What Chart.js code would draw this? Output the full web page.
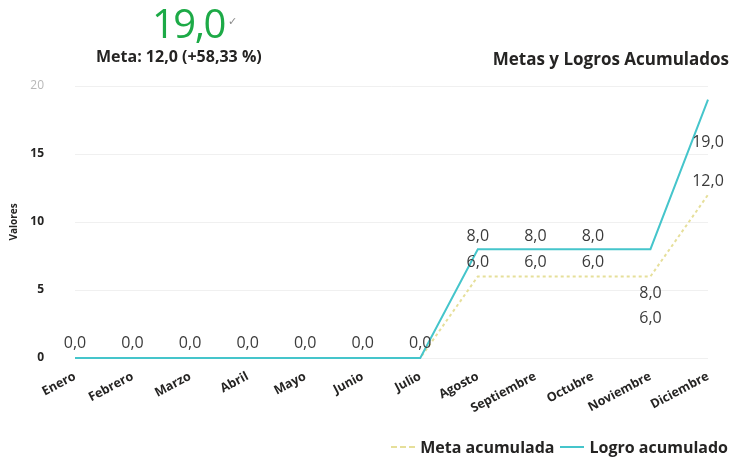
<!DOCTYPE html>
<html lang="es">
<head>
<meta charset="utf-8">
<title>Metas y Logros Acumulados</title>
<script src="https://cdn.jsdelivr.net/npm/chart.js@4.4.1/dist/chart.umd.min.js"></script>
<style>
  body { margin: 0; background: #fff; font-family: "Open Sans", "Noto Sans", sans-serif; color: #252423; }
  #tablero { position: relative; width: 731px; height: 460px; overflow: hidden; }
  #tablero canvas { position: absolute; left: 0; top: 0; }
  .kpi { position: absolute; left: 152px; top: -5px; font-size: 40px; color: #1daa47; letter-spacing: -1.5px; }
  .kpi .check { font-size: 11px; color: #8a8a8a; vertical-align: 13px; margin-left: 3px; }
  .meta { position: absolute; left: 96px; top: 45px; font-size: 16px; font-weight: 700; }
  .titulo { position: absolute; right: 2px; top: 47px; font-size: 17px; font-weight: 700; }
  .leyenda { position: absolute; right: 3px; top: 436px; display: flex; align-items: center; font-size: 16px; font-weight: 700; }
  .leyenda .muestra { width: 24px; height: 0; margin: 0 5px 0 6px; }
</style>
</head>
<body>
<div id="tablero">
  <canvas id="grafico"></canvas>
  <div class="kpi">19,0<span class="check">✓</span></div>
  <div class="meta">Meta: 12,0 (+58,33 %)</div>
  <div class="titulo">Metas y Logros Acumulados</div>
  <div class="leyenda">
    <span class="muestra" style="border-top: 2px dashed #e6df9a;"></span>Meta acumulada
    <span class="muestra" style="border-top: 2px solid #45c5cb;"></span>Logro acumulado
  </div>
</div>
<script>
// Meses y valores acumulados
const meses = ["Enero", "Febrero", "Marzo", "Abril", "Mayo", "Junio", "Julio",
  "Agosto", "Septiembre", "Octubre", "Noviembre", "Diciembre"];
const metaAcumulada = [0, 0, 0, 0, 0, 0, 0, 6, 6, 6, 6, 12];
const logroAcumulado = [0, 0, 0, 0, 0, 0, 0, 8, 8, 8, 8, 19];
const ticksValores = [0, 5, 10, 15, 20];

// Desplazamiento vertical de cada etiqueta respecto a su punto (null = sin etiqueta)
const despMeta = [null, null, null, null, null, null, null, -14, -14, -14, 42, -13];
const despLogro = [-15, -15, -15, -15, -15, -15, -15, -13, -13, -13, 44, 43];

const formato = v => v.toFixed(1).replace(".", ",");

// Etiquetas de datos dibujadas sobre los puntos de cada serie
const etiquetasDatos = {
  id: "etiquetasDatos",
  afterDatasetsDraw(chart) {
    const c = chart.ctx;
    c.save();
    c.font = '16px "Open Sans", sans-serif';
    c.fillStyle = "#3b3b3b";
    c.textAlign = "center";
    c.textBaseline = "middle";
    chart.data.datasets.forEach((ds, i) => {
      const meta = chart.getDatasetMeta(i);
      meta.data.forEach((pt, j) => {
        const d = ds.desplazamientos[j];
        if (d === null) return;
        c.fillText(formato(ds.data[j]), pt.x, pt.y + d);
      });
    });
    c.restore();
  }
};

new Chart(document.getElementById("grafico"), {
  type: "line",
  data: {
    labels: meses,
    datasets: [
      {
        label: "Meta acumulada",
        data: metaAcumulada,
        desplazamientos: despMeta,
        borderColor: "#e6df9a",
        borderWidth: 2,
        borderDash: [3, 3],
        pointRadius: 0,
        tension: 0,
        clip: 4,
        order: 2
      },
      {
        label: "Logro acumulado",
        data: logroAcumulado,
        desplazamientos: despLogro,
        borderColor: "#45c5cb",
        borderWidth: 2,
        pointRadius: 0,
        tension: 0,
        clip: 4,
        order: 1
      }
    ]
  },
  options: {
    responsive: true,
    maintainAspectRatio: false,
    animation: false,
    layout: { padding: { top: 86, right: 23, bottom: 42, left: 0 } },
    plugins: {
      legend: { display: false },
      tooltip: { enabled: false }
    },
    scales: {
      x: {
        grid: { display: false },
        border: { display: false },
        ticks: {
          minRotation: 28,
          maxRotation: 28,
          padding: 3,
          color: "#252423",
          font: { family: "Open Sans", size: 12.5, weight: "bold" }
        },
        afterFit(scale) {
          scale.paddingLeft = 0;
          scale.paddingRight = 0;
          scale.height = 60;
        }
      },
      y: {
        min: 0,
        max: 20,
        afterBuildTicks(scale) {
          scale.ticks = ticksValores.map(v => ({ value: v }));
        },
        grid: { color: "rgba(0,0,0,0.06)", drawTicks: false },
        border: { display: false },
        ticks: {
          padding: 31,
          color: ctx => (ctx.tick.value === 20 ? "#b8b8b8" : "#252423"),
          font: ctx => ({ family: "Open Sans", size: 12, weight: ctx.tick && ctx.tick.value === 20 ? "normal" : "bold" })
        },
        title: {
          display: true,
          text: "Valores",
          color: "#252423",
          padding: { top: 8 },
          font: { family: "Open Sans", size: 10, weight: "bold" }
        },
        afterFit(scale) {
          scale.width = 75;
        }
      }
    }
  },
  plugins: [etiquetasDatos]
});
</script>
</body>
</html>
